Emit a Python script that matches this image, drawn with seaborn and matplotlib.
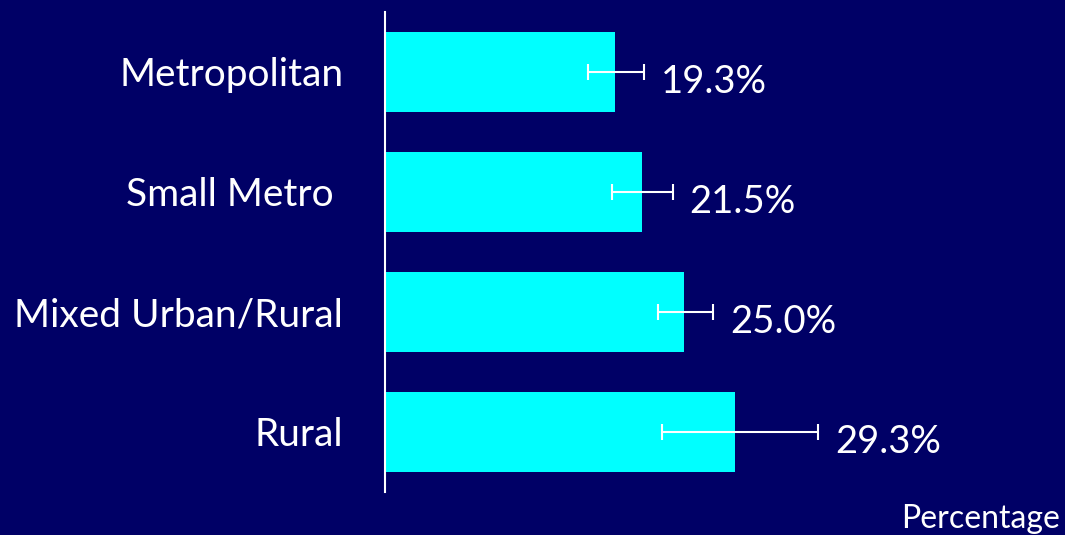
import numpy as np
import pandas as pd
import matplotlib
matplotlib.use("Agg")
import matplotlib.pyplot as plt
import seaborn as sns

# data
categories = ["Metropolitan", "Small Metro ", "Mixed Urban/Rural", "Rural"]
values = [19.3, 21.5, 25.0, 29.3]
ci_low = [17.0, 19.0, 22.9, 23.2]
ci_high = [21.7, 24.1, 27.5, 36.3]
value_labels = ["19.3%", "21.5%", "25.0%", "29.3%"]

bg = "#000066"
bar_color = "#00FFFF"

sns.set_theme(style="white")
plt.rcParams["font.family"] = ["Lato", "DejaVu Sans"]

df = pd.DataFrame({"category": categories, "value": values})

fig = plt.figure(figsize=(10.65, 5.35), dpi=100, facecolor=bg)
ax = fig.add_axes([0.3615, 0.0804, 0.6385, 0.8972])
ax.set_facecolor(bg)

sns.barplot(data=df, x="value", y="category", orient="h", color=bar_color,
            saturation=1, width=0.66, errorbar=None, linewidth=0, ax=ax)

y = np.arange(len(categories))
lo = np.array(values) - np.array(ci_low)
hi = np.array(ci_high) - np.array(values)
ax.errorbar(values, y, xerr=[lo, hi], fmt="none", ecolor="white",
            elinewidth=1.5, capsize=6, capthick=1.5)

for yi, h, lab in zip(y, ci_high, value_labels):
    ax.text(h + 1.4, yi + 0.08, lab, color="white", fontsize=27.5,
            ha="left", va="center")

ax.set_xlim(0, 56.95)
ax.set_ylim(3.5, -0.5)
ax.set_xlabel("")
ax.set_ylabel("")
ax.set_xticks([])
ax.tick_params(axis="y", length=0, pad=30, labelsize=28, labelcolor="white")

for s in ["top", "right", "bottom"]:
    ax.spines[s].set_visible(False)
ax.spines["left"].set_color("white")
ax.spines["left"].set_linewidth(1.5)

fig.text(0.995, 0.03, "Percentage", color="white", fontsize=23,
         ha="right", va="center")

fig.savefig("out.png", dpi=100, facecolor=bg)
